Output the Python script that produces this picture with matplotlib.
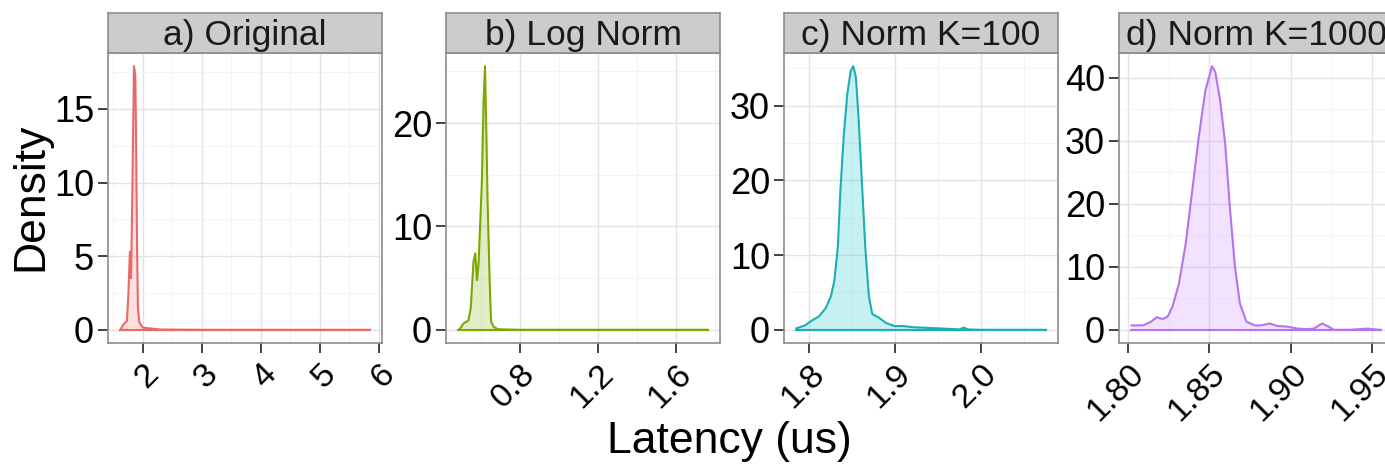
import matplotlib
matplotlib.use("Agg")
import matplotlib.pyplot as plt
from matplotlib.ticker import FixedLocator, AutoMinorLocator

plt.rcParams['font.family'] = ['Liberation Sans', 'DejaVu Sans']

# facet titles and hue colours
titles = ["a) Original", "b) Log Norm", "c) Norm K=100", "d) Norm K=1000"]
colors = ["#F8766D", "#7CAE00", "#00BFC4", "#C77CFF"]
edge_colors = ["#E8696A", "#79A800", "#1AAFB3", "#B474F0"]

# density estimates, one pair of lists per facet
orig_x = [1.62, 1.66, 1.70, 1.73, 1.755, 1.78, 1.80, 1.82, 1.849, 1.871, 1.885, 1.90, 1.916, 1.94, 2.0, 2.3, 3.0, 4.0, 5.0, 5.84]
orig_y = [0.0, 0.3, 0.5, 0.6, 2.5, 5.3, 3.5, 9.0, 17.9, 17.3, 13.0, 6.0, 1.5, 0.5, 0.15, 0.02, 0.0, 0.0, 0.0, 0.0]

lognorm_x = [0.487, 0.495, 0.512, 0.538, 0.55, 0.564, 0.573, 0.582, 0.59, 0.607, 0.616, 0.623, 0.63, 0.636, 0.647, 0.654, 0.667, 0.69, 0.8, 1.2, 1.6, 1.763]
lognorm_y = [0.0, 0.1, 0.6, 0.9, 2.1, 6.6, 7.4, 4.8, 6.4, 14.3, 22.3, 25.5, 19.0, 12.6, 4.6, 0.8, 0.3, 0.05, 0.0, 0.0, 0.0, 0.0]

k100_x = [1.786, 1.796, 1.802, 1.812, 1.820, 1.826, 1.830, 1.834, 1.837, 1.841, 1.845, 1.849, 1.852, 1.855, 1.858, 1.862, 1.866, 1.870, 1.874, 1.882, 1.890, 1.900, 1.910, 1.921, 1.94, 1.96, 1.975, 1.98, 1.985, 2.0, 2.075]
k100_y = [0.2, 0.6, 1.1, 1.8, 2.9, 4.5, 6.6, 11.1, 18.7, 26.2, 31.6, 34.7, 35.3, 33.8, 28.5, 19.6, 10.8, 4.5, 2.1, 1.6, 0.9, 0.5, 0.5, 0.35, 0.25, 0.15, 0.05, 0.3, 0.05, 0.0, 0.0]

k1000_x = [1.8022, 1.8093, 1.8143, 1.8177, 1.8214, 1.8244, 1.8274, 1.8314, 1.8355, 1.8395, 1.8435, 1.8476, 1.8516, 1.8536, 1.8566, 1.8597, 1.8627, 1.8657, 1.8687, 1.8727, 1.8778, 1.8818, 1.8869, 1.8919, 1.8980, 1.9040, 1.9100, 1.9141, 1.9191, 1.9232, 1.9262, 1.936, 1.9474, 1.9502, 1.955]
k1000_y = [0.7, 0.7, 1.3, 2.0, 1.7, 2.1, 3.7, 7.4, 13.7, 22.1, 30.6, 38.0, 41.8, 40.9, 36.4, 29.5, 19.0, 10.0, 4.2, 1.3, 0.7, 0.7, 1.0, 0.6, 0.5, 0.2, 0.1, 0.2, 1.0, 0.5, 0.0, 0.0, 0.2, 0.1, 0.0]

xs = [orig_x, lognorm_x, k100_x, k1000_x]
ys = [orig_y, lognorm_y, k100_y, k1000_y]

# tick breaks per facet
x_breaks = [[2, 3, 4, 5, 6], [0.8, 1.2, 1.6], [1.8, 1.9, 2.0], [1.80, 1.85, 1.90, 1.95]]
x_labels = [["2", "3", "4", "5", "6"], ["0.8", "1.2", "1.6"], ["1.8", "1.9", "2.0"],
            ["1.80", "1.85", "1.90", "1.95"]]
y_breaks = [[0, 5, 10, 15], [0, 10, 20], [0, 10, 20, 30], [0, 10, 20, 30, 40]]


def expand(lo, hi, frac=0.05):
    pad = (hi - lo) * frac
    return lo - pad, hi + pad


fig = plt.figure(figsize=(13.85, 4.70), dpi=100)

W, H = 1385.0, 470.0
lefts = [108, 446, 784, 1119]
pw = 274
top, bottom = 53, 343
strip_h = 40

for i in range(4):
    l = lefts[i] / W
    ax = fig.add_axes([l, (H - bottom) / H, pw / W, (bottom - top) / H])
    x, y = xs[i], ys[i]
    ax.fill_between(x, 0, y, color=colors[i], alpha=0.22, lw=0)
    ax.plot(x, y, color=edge_colors[i], lw=1.5)
    ax.plot([x[0], x[-1]], [0, 0], color=edge_colors[i], lw=1.5)

    ax.set_xlim(*expand(min(x), max(x)))
    ax.set_ylim(*expand(0, max(y)))

    ax.xaxis.set_major_locator(FixedLocator(x_breaks[i]))
    ax.set_xticklabels(x_labels[i])
    ax.yaxis.set_major_locator(FixedLocator(y_breaks[i]))
    ax.xaxis.set_minor_locator(AutoMinorLocator(2))
    ax.yaxis.set_minor_locator(AutoMinorLocator(2))
    ax.tick_params(which='minor', length=0)
    ax.tick_params(which='major', length=7, width=1.3, color='#333333', pad=3)
    ax.tick_params(axis='y', labelsize=26)
    ax.tick_params(axis='x', labelsize=24.5, pad=4)
    ax.grid(True, which='major', color='#E2E2E2', lw=1.0)
    ax.grid(True, which='minor', color='#F2F2F2', lw=0.6)
    ax.set_axisbelow(True)
    for lab in ax.get_xticklabels():
        lab.set_rotation(45)
        lab.set_ha('right')
        lab.set_va('top')
        lab.set_rotation_mode('anchor')
    for sp in ax.spines.values():
        sp.set_color('#8C8C8C')
        sp.set_linewidth(1.2)

    # facet strip
    sax = fig.add_axes([l, (H - top) / H, pw / W, strip_h / H])
    sax.set_facecolor('#CCCCCC')
    sax.set_xticks([])
    sax.set_yticks([])
    for sp in sax.spines.values():
        sp.set_color('#8C8C8C')
        sp.set_linewidth(1.2)
    sax.text(0.5, 0.45, titles[i], transform=sax.transAxes, ha='center',
             va='center', fontsize=25.5, color='#1A1A1A')

fig.text(0.022, (H - 197) / H, "Density", rotation=90, ha='center',
         va='center', fontsize=32)
fig.text(729 / W, (H - 442) / H, "Latency (us)", ha='center', va='center',
         fontsize=32)

fig.savefig("out.png", dpi=100)
